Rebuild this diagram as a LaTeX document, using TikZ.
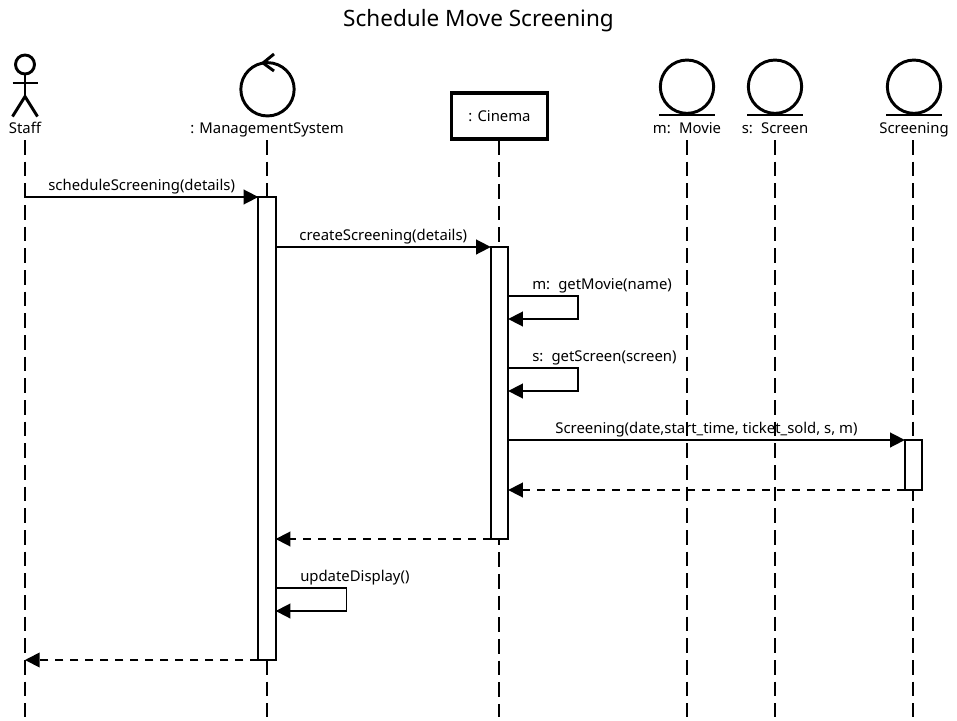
\documentclass[tikz,border=0pt]{standalone}
\usepackage{fontspec}
\setmainfont{Noto Sans}
\usetikzlibrary{arrows.meta,positioning,calc}
\tikzset{
  heading/.style={font=\fontsize{16.9}{20}\selectfont, inner sep=0pt},
  small/.style={font=\fontsize{11.15}{13}\selectfont, inner sep=0pt, text height=8.5pt, text depth=2.4pt},
  icon/.style={draw, line width=2.2pt, circle, minimum size=40pt, inner sep=0pt},
  thickline/.style={line width=2.2pt},
  cinemabox/.style={draw, line width=2.4pt, minimum width=72pt, minimum height=34.5pt, inner sep=0pt, font=\fontsize{11.15}{13}\selectfont},
  active/.style={draw, line width=1.3pt, fill=white, minimum width=13pt, inner sep=0pt, outer sep=0pt},
  life/.style={line width=1.3pt, dash pattern=on 11pt off 5.25pt},
  arrow/.style={-{Triangle[length=11pt,width=11pt]}, line width=1.3pt},
  back/.style={arrow, dash pattern=on 6pt off 5.25pt},
}
\newcommand{\gap}{\hspace{0.55em}}
\begin{document}
\begin{tikzpicture}[x=0.75pt,y=-0.75pt]
\useasboundingbox (0,0) rectangle (957,721);
\node[heading] (head) at (478.5,21) {Schedule Move Screening};

\node[small] (staff) at (25,129) {Staff};
\node[draw, thickline, circle, minimum size=14.25pt, inner sep=0pt] (staffhead) at (25,64.5) {};
\coordinate (hip) at (25,96.5);
\coordinate (arml) at (12.5,83);
\coordinate (armr) at (37.5,83);
\coordinate (legl) at (12.5,116.5);
\coordinate (legr) at (37.5,116.5);
\draw[thickline] (staffhead) -- (hip);
\draw[thickline] (arml) -- (armr);
\draw[thickline] (legl) -- (hip) -- (legr);

\node[small] (manage) at (267,129) {: ManagementSystem};
\node[icon] (manageicon) at (267.5,89.3) {};
\coordinate (tipa) at (274,54);
\coordinate (tipb) at (263,63);
\coordinate (tipc) at (274,71);
\draw[thickline] (tipa) -- (tipb) -- (tipc);

\node[cinemabox] (cinema) at (499.5,116) {: Cinema};

\node[small] (movie) at (687,129) {m:\gap Movie};
\node[icon] (movieicon) at (687,86.7) {};
\coordinate (moviel) at (659,115);
\coordinate (movier) at (714.5,115);
\draw[thickline] (moviel) -- (movier);

\node[small] (screen) at (775,129) {s:\gap Screen};
\node[icon] (screenicon) at (775,86.7) {};
\coordinate (screenl) at (747,115);
\coordinate (screenr) at (802.5,115);
\draw[thickline] (screenl) -- (screenr);

\node[small] (screening) at (914,129) {Screening};
\node[icon] (screeningicon) at (914,86.7) {};
\coordinate (screeningl) at (886,115);
\coordinate (screeningr) at (941.5,115);
\draw[thickline] (screeningl) -- (screeningr);

\coordinate (stafftop) at (25,140);
\coordinate (managetop) at (267,140);
\coordinate (movietop) at (687,140);
\coordinate (screentop) at (775,140);
\coordinate (screeningtop) at (913,140);
\coordinate (staffend) at (25,717);
\coordinate (manageend) at (267,717);
\coordinate (cinemaend) at (499,717);
\coordinate (movieend) at (687,717);
\coordinate (screenend) at (775,717);
\coordinate (screeningend) at (913,717);
\draw[life] (stafftop) -- (staffend);
\draw[life] (managetop) -- (manageend);
\draw[life] (cinema.south -| cinemaend) -- (cinemaend);
\draw[life] (movietop) -- (movieend);
\draw[life] (screentop) -- (screenend);
\draw[life] (screeningtop) -- (screeningend);

\node[active, minimum height=347.25pt] (actmanage) at (267,428.5) {};
\node[active, minimum height=219pt] (actcinema) at (499.5,393) {};
\node[active, minimum height=37.5pt] (actscreening) at (913.5,465) {};

\draw[arrow] (staffend |- actmanage.north) -- node[small, above=1.6pt] {scheduleScreening(details)} (actmanage.north west);
\draw[arrow] (actmanage.east |- actcinema.north) -- node[small, above=1.6pt] {createScreening(details)} (actcinema.north west);

\coordinate (moviea) at (578,296);
\coordinate (movieb) at (578,319);
\draw[arrow] (actcinema.east |- moviea) -- (moviea) -- (movieb) -- (actcinema.east |- movieb);
\node[small, anchor=south west] (moviecall) at (532,293) {m:\gap getMovie(name)};

\coordinate (screena) at (578,368);
\coordinate (screenb) at (578,391);
\draw[arrow] (actcinema.east |- screena) -- (screena) -- (screenb) -- (actcinema.east |- screenb);
\node[small, anchor=south west] (screencall) at (532,365) {s:\gap getScreen(screen)};

\draw[arrow] (actcinema.east |- actscreening.north) -- node[small, above=1.6pt] {Screening(date,start\_time, ticket\_sold, s, m)} (actscreening.north west);
\draw[back] (actscreening.south west) -- (actcinema.east |- actscreening.south);
\draw[back] (actcinema.south west) -- (actmanage.east |- actcinema.south);

\coordinate (updatea) at (346.5,588);
\coordinate (updateb) at (346.5,611);
\draw[arrow] (actmanage.east |- updatea) -- (updatea) -- (updateb) -- (actmanage.east |- updateb);
\node[small, anchor=south west] (updatecall) at (300,584.5) {updateDisplay()};

\draw[back] (actmanage.south west) -- (staffend |- actmanage.south);
\end{tikzpicture}
\end{document}
